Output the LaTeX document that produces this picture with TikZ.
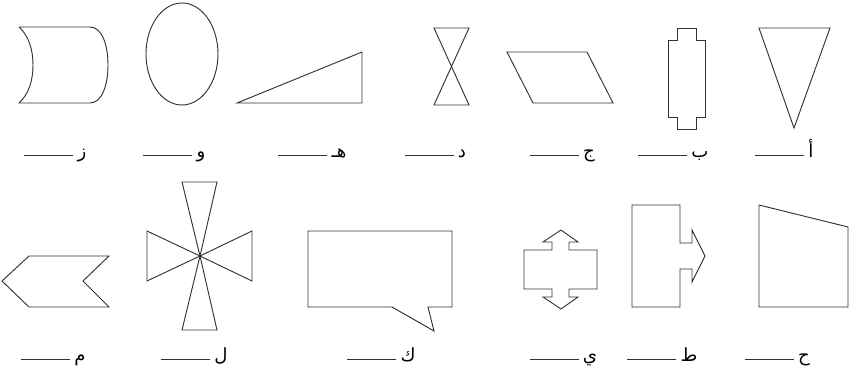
\documentclass[tikz,border=0pt]{standalone}
\usepackage{fontspec}
\newfontfamily\arabicfont[Script=Arabic]{DejaVu Sans}
\TeXXeTstate=1
\usetikzlibrary{positioning}

\begin{document}
\begin{tikzpicture}[x=0.03cm, y=-0.03cm,
    shape line/.style={draw=black!80, line width=0.8pt, line join=miter},
    letter/.style={anchor=base, inner sep=0pt, font=\arabicfont\fontsize{15.5}{18}\selectfont},
    blank/.style={draw=black!80, line width=0.7pt}]
  \useasboundingbox (0,0) rectangle (857,373);

  % top row
  \draw[shape line] (19,27) -- (90,27) .. controls (102,27) and (108,45) .. (108,65)
    .. controls (108,85) and (102,103) .. (90,103) -- (19,103)
    .. controls (29,94) and (33,80) .. (33,65) .. controls (33,50) and (29,36) .. (19,27);
  \draw[shape line] (182,54) ellipse [x radius=36, y radius=51];
  \draw[shape line] (237,103) -- (362,103) -- (362,52) -- cycle;
  \draw[shape line] (434,28) -- (469,28) -- (434,105) -- (469,105) -- cycle;
  \draw[shape line] (507,52) -- (587,52) -- (613,103) -- (533,103) -- cycle;
  \draw[shape line] (677,28) -- (696,28) -- (696,40) -- (705,40) -- (705,117)
    -- (696,117) -- (696,129) -- (677,129) -- (677,117) -- (668,117)
    -- (668,40) -- (677,40) -- cycle;
  \draw[shape line] (759,28) -- (830,28) -- (794,128) -- cycle;

  % bottom row
  \draw[shape line] (29,256) -- (109,256) -- (83,281) -- (109,307) -- (29,307)
    -- (2,281) -- cycle;
  \draw[shape line] (200,256) -- (182,182) -- (217,182) -- cycle;
  \draw[shape line] (200,256) -- (182,330) -- (217,330) -- cycle;
  \draw[shape line] (200,256) -- (147,231) -- (147,281) -- cycle;
  \draw[shape line] (200,256) -- (252,231) -- (252,281) -- cycle;
  \fill[black!80] (200,256) circle [radius=1.6];
  \draw[shape line] (308,231) -- (452,231) -- (452,307) -- (428,307) -- (434,331)
    -- (392,307) -- (308,307) -- cycle;
  \draw[shape line] (524,250) -- (552,250) -- (552,242) -- (543,242) -- (561,230)
    -- (578,242) -- (569,242) -- (569,250) -- (597,250) -- (597,289)
    -- (569,289) -- (569,297) -- (578,297) -- (561,309) -- (543,297)
    -- (552,297) -- (552,289) -- (524,289) -- cycle;
  \draw[shape line] (632,205) -- (680,205) -- (680,243) -- (692,243) -- (692,230)
    -- (705,256) -- (692,282) -- (692,269) -- (680,269) -- (680,307)
    -- (632,307) -- cycle;
  \draw[shape line] (759,205) -- (848,227) -- (848,307) -- (759,307) -- cycle;

  % labels with blanks
  \node[letter] (zay) at (82,158) {\beginR ز\endR};
  \node[letter] (waw) at (201,158) {\beginR و\endR};
  \node[letter] (heh) at (339,158) {\beginR هـ\endR};
  \node[letter] (dal) at (462,158) {\beginR د\endR};
  \node[letter] (jeem) at (589,158) {\beginR ج\endR};
  \node[letter] (beh) at (700,158) {\beginR ب\endR};
  \node[letter] (alef) at (811,158) {\beginR أ\endR};
  \node[letter] (meem) at (80,362) {\beginR م\endR};
  \node[letter] (lam) at (221,362) {\beginR ل\endR};
  \node[letter] (kaf) at (408,362) {\beginR ك\endR};
  \node[letter] (yeh) at (590,362) {\beginR ي\endR};
  \node[letter] (tah) at (689,362) {\beginR ط\endR};
  \node[letter] (hah) at (804,362) {\beginR ح\endR};
  \foreach \lbl in {zay, waw, heh, dal, jeem, beh, alef, meem, lam, kaf, yeh, tah, hah}
    \draw[blank] (\lbl.base west) ++(-4,-3) -- ++(-49,0);
\end{tikzpicture}
\end{document}
